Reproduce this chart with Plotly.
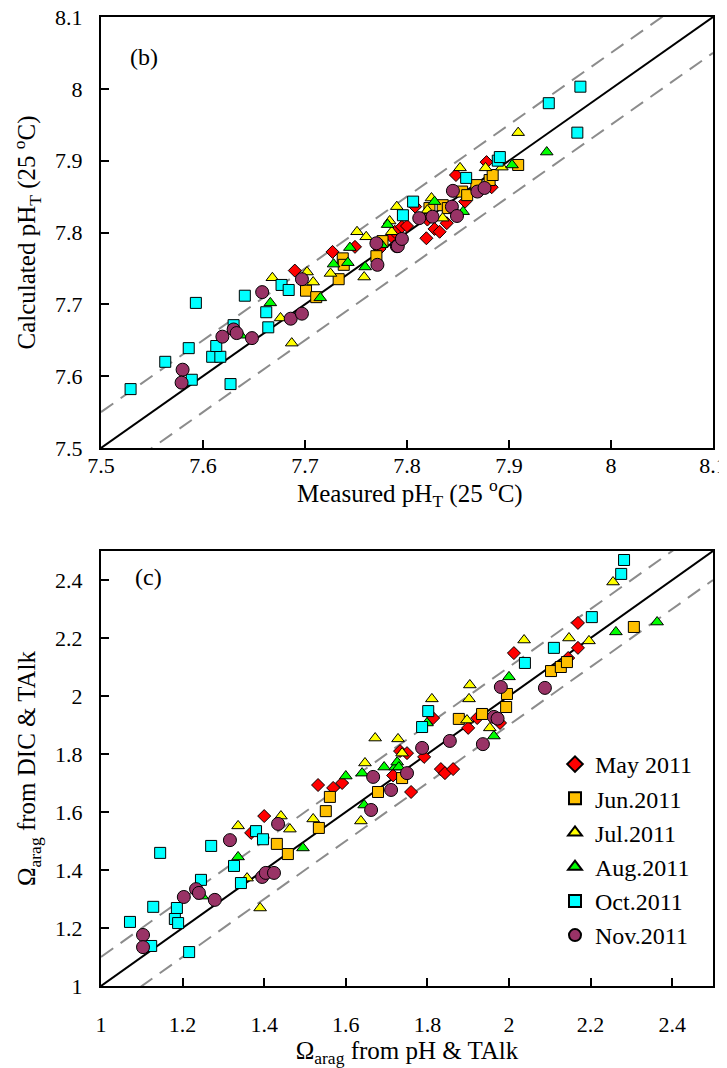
import plotly.graph_objects as go

# ---------------- data: panel (b) pH ----------------
may_ph_x = [7.690, 7.727, 7.749, 7.773, 7.785, 7.788, 7.795, 7.800, 7.808, 7.819, 7.820, 7.827, 7.832, 7.839, 7.848, 7.857, 7.878, 7.883]
may_ph_y = [7.747, 7.773, 7.780, 7.777, 7.794, 7.801, 7.808, 7.809, 7.836, 7.792, 7.818, 7.805, 7.801, 7.813, 7.880, 7.843, 7.898, 7.863]
jun_ph_x = [7.701, 7.711, 7.733, 7.737, 7.738, 7.770, 7.776, 7.822, 7.835, 7.840, 7.854, 7.859, 7.868, 7.881, 7.884, 7.909]
jun_ph_y = [7.719, 7.710, 7.735, 7.764, 7.755, 7.767, 7.788, 7.834, 7.838, 7.834, 7.857, 7.852, 7.866, 7.873, 7.880, 7.894]
jul_ph_x = [7.668, 7.676, 7.687, 7.702, 7.708, 7.725, 7.751, 7.758, 7.760, 7.783, 7.785, 7.790, 7.820, 7.824, 7.835, 7.852, 7.877, 7.893, 7.909]
jul_ph_y = [7.737, 7.681, 7.646, 7.745, 7.731, 7.743, 7.801, 7.738, 7.794, 7.816, 7.801, 7.836, 7.831, 7.848, 7.820, 7.890, 7.890, 7.891, 7.939]
aug_ph_x = [7.637, 7.666, 7.715, 7.728, 7.742, 7.744, 7.759, 7.775, 7.781, 7.827, 7.855, 7.903, 7.937]
aug_ph_y = [7.657, 7.702, 7.709, 7.756, 7.758, 7.779, 7.752, 7.783, 7.811, 7.843, 7.829, 7.894, 7.912]
oct_ph_x = [7.529, 7.563, 7.586, 7.593, 7.589, 7.609, 7.617, 7.613, 7.627, 7.641, 7.630, 7.662, 7.664, 7.677, 7.684, 7.796, 7.806, 7.858, 7.889, 7.891, 7.939, 7.967, 7.970]
oct_ph_y = [7.582, 7.620, 7.639, 7.702, 7.595, 7.627, 7.627, 7.642, 7.589, 7.712, 7.671, 7.689, 7.668, 7.727, 7.720, 7.824, 7.843, 7.876, 7.900, 7.905, 7.980, 7.939, 8.003]
nov_ph_x = [7.580, 7.579, 7.619, 7.630, 7.633, 7.648, 7.658, 7.686, 7.697, 7.697, 7.770, 7.771, 7.790, 7.791, 7.795, 7.812, 7.825, 7.844, 7.845, 7.849, 7.869, 7.876]
nov_ph_y = [7.609, 7.591, 7.655, 7.665, 7.660, 7.653, 7.717, 7.680, 7.687, 7.735, 7.785, 7.755, 7.781, 7.781, 7.791, 7.820, 7.822, 7.836, 7.858, 7.823, 7.857, 7.862]

# ---------------- data: panel (c) Omega ----------------
may_om_x = [1.368, 1.400, 1.532, 1.569, 1.591, 1.716, 1.733, 1.750, 1.760, 1.792, 1.814, 1.833, 1.843, 1.863, 1.900, 1.922, 1.978, 2.012, 2.145, 2.169, 2.169]
may_om_y = [1.528, 1.586, 1.693, 1.683, 1.700, 1.726, 1.810, 1.803, 1.669, 1.790, 1.924, 1.748, 1.734, 1.748, 1.890, 1.924, 1.907, 2.148, 2.131, 2.166, 2.252]
jun_om_x = [1.431, 1.458, 1.534, 1.551, 1.561, 1.679, 1.738, 1.877, 1.934, 1.993, 1.995, 2.103, 2.127, 2.142, 2.306]
jun_om_y = [1.490, 1.455, 1.545, 1.603, 1.652, 1.669, 1.717, 1.921, 1.938, 1.962, 2.007, 2.086, 2.100, 2.117, 2.238]
jul_om_x = [1.336, 1.358, 1.390, 1.441, 1.463, 1.520, 1.637, 1.647, 1.672, 1.728, 1.738, 1.811, 1.897, 1.902, 1.904, 1.953, 2.037, 2.147, 2.196, 2.255]
jul_om_y = [1.552, 1.372, 1.269, 1.586, 1.541, 1.576, 1.569, 1.769, 1.855, 1.852, 1.803, 1.990, 1.917, 1.990, 2.038, 1.890, 2.193, 2.200, 2.190, 2.393]
aug_om_x = [1.248, 1.336, 1.495, 1.600, 1.640, 1.645, 1.694, 1.721, 1.726, 1.730, 1.799, 1.963, 2.000, 2.262, 2.363]
aug_om_y = [1.310, 1.445, 1.476, 1.724, 1.734, 1.624, 1.755, 1.755, 1.772, 1.755, 1.907, 1.862, 2.066, 2.221, 2.255]
oct_om_x = [1.071, 1.123, 1.128, 1.145, 1.181, 1.186, 1.189, 1.216, 1.245, 1.270, 1.326, 1.343, 1.380, 1.397, 1.787, 1.802, 2.039, 2.110, 2.203, 2.275, 2.282]
oct_om_y = [1.221, 1.138, 1.273, 1.459, 1.231, 1.269, 1.217, 1.117, 1.366, 1.483, 1.414, 1.355, 1.534, 1.506, 1.893, 1.948, 2.114, 2.166, 2.272, 2.421, 2.469]
nov_om_x = [1.103, 1.103, 1.203, 1.233, 1.240, 1.279, 1.316, 1.395, 1.404, 1.424, 1.434, 1.662, 1.667, 1.711, 1.750, 1.787, 1.855, 1.936, 1.963, 1.972, 1.980, 2.088]
nov_om_y = [1.176, 1.134, 1.307, 1.334, 1.321, 1.297, 1.503, 1.376, 1.390, 1.390, 1.559, 1.607, 1.721, 1.676, 1.734, 1.821, 1.845, 1.834, 1.928, 1.922, 2.031, 2.028]

series_names = ["May 2011", "Jun.2011", "Jul.2011", "Aug.2011", "Oct.2011", "Nov.2011"]

# reference lines (1:1 and offsets)
ph_line = [7.5, 8.1]
ph_offset = 0.05
om_line = [1.0, 2.5]
om_offset = 0.1

# ticks
ph_ticks = [7.5, 7.6, 7.7, 7.8, 7.9, 8.0, 8.1]
ph_ticktext = ["7.5", "7.6", "7.7", "7.8", "7.9", "8", "8.1"]
om_ticks = [1.0, 1.2, 1.4, 1.6, 1.8, 2.0, 2.2, 2.4]
om_ticktext = ["1", "1.2", "1.4", "1.6", "1.8", "2", "2.2", "2.4"]

# ---------------- styles ----------------
styles = [
    dict(symbol="diamond", color="#FF0000", size=10),
    dict(symbol="square", color="#FFC000", size=11),
    dict(symbol="triangle-up", color="#FFFF00", size=11),
    dict(symbol="triangle-up", color="#00FF00", size=11),
    dict(symbol="square", color="#00FFFF", size=11),
    dict(symbol="circle", color="#993366", size=13),
]

FONT = "Liberation Serif"
W, H = 727, 1060
OFF = 8  # page body margin


def xp(px):
    return (px - OFF) / W


def yp(py):
    return 1 - (py - OFF) / H


fig = go.Figure()

dash_style = dict(color="#8c8c8c", width=2, dash="15px,9px")
# reference lines panel (b)
fig.add_trace(go.Scatter(x=ph_line, y=ph_line, mode="lines", line=dict(color="black", width=2),
                         showlegend=False, hoverinfo="skip", xaxis="x", yaxis="y"))
fig.add_trace(go.Scatter(x=ph_line, y=[v + ph_offset for v in ph_line], mode="lines", line=dash_style,
                         showlegend=False, hoverinfo="skip", xaxis="x", yaxis="y"))
fig.add_trace(go.Scatter(x=ph_line, y=[v - ph_offset for v in ph_line], mode="lines", line=dash_style,
                         showlegend=False, hoverinfo="skip", xaxis="x", yaxis="y"))
# reference lines panel (c)
fig.add_trace(go.Scatter(x=om_line, y=om_line, mode="lines", line=dict(color="black", width=2),
                         showlegend=False, hoverinfo="skip", xaxis="x2", yaxis="y2"))
fig.add_trace(go.Scatter(x=om_line, y=[v + om_offset for v in om_line], mode="lines", line=dash_style,
                         showlegend=False, hoverinfo="skip", xaxis="x2", yaxis="y2"))
fig.add_trace(go.Scatter(x=om_line, y=[v - om_offset for v in om_line], mode="lines", line=dash_style,
                         showlegend=False, hoverinfo="skip", xaxis="x2", yaxis="y2"))

ph_data = [(may_ph_x, may_ph_y), (jun_ph_x, jun_ph_y), (jul_ph_x, jul_ph_y),
           (aug_ph_x, aug_ph_y), (oct_ph_x, oct_ph_y), (nov_ph_x, nov_ph_y)]
om_data = [(may_om_x, may_om_y), (jun_om_x, jun_om_y), (jul_om_x, jul_om_y),
           (aug_om_x, aug_om_y), (oct_om_x, oct_om_y), (nov_om_x, nov_om_y)]

for name, st, (x, y) in zip(series_names, styles, ph_data):
    fig.add_trace(go.Scatter(x=x, y=y, mode="markers", name=name, showlegend=False,
                             marker=dict(symbol=st["symbol"], color=st["color"], size=st["size"],
                                         line=dict(color="black", width=1)),
                             xaxis="x", yaxis="y"))
for i, (name, st, (x, y)) in enumerate(zip(series_names, styles, om_data)):
    fig.add_trace(go.Scatter(x=x, y=y, mode="markers", name=name, legendgroup=f"g{i}",
                             marker=dict(symbol=st["symbol"], color=st["color"], size=st["size"],
                                         line=dict(color="black", width=1)),
                             xaxis="x2", yaxis="y2"))

xdom = [xp(101), xp(713)]
ydom_top = [yp(448), yp(17)]
ydom_bot = [yp(986), yp(551)]

axis_common = dict(showline=True, mirror=True, linecolor="black", linewidth=2,
                   ticks="inside", ticklen=8, tickwidth=2, tickcolor="black",
                   showgrid=False, zeroline=False, automargin=False,
                   ticklabeloverflow="allow",
                   tickfont=dict(family=FONT, size=22, color="black"))
TFS = 25

fig.update_layout(
    width=W, height=H,
    margin=dict(l=0, r=0, t=0, b=0, autoexpand=False),
    paper_bgcolor="white", plot_bgcolor="white",
    font=dict(family=FONT, size=22, color="black"),
    xaxis=dict(domain=xdom, range=[7.5, 8.1], tickvals=ph_ticks, ticktext=ph_ticktext,
               anchor="y", ticklabelstandoff=-3, **axis_common),
    yaxis=dict(domain=ydom_top, range=[7.5, 8.1], tickvals=ph_ticks, ticktext=ph_ticktext,
               anchor="x", ticklabelstandoff=12,
               title=dict(text="Calculated pH<sub>T</sub> (25 <sup>o</sup>C)", standoff=12,
                          font=dict(family=FONT, size=TFS)), **axis_common),
    xaxis2=dict(domain=xdom, range=[1.0, 2.5], tickvals=om_ticks, ticktext=om_ticktext,
                anchor="y2", ticklabelstandoff=18,
                title=dict(text="Ω<sub>arag</sub> from pH &amp; TAlk", standoff=6,
                           font=dict(family=FONT, size=TFS)), **axis_common),
    yaxis2=dict(domain=ydom_bot, range=[1.0, 2.5], tickvals=om_ticks, ticktext=om_ticktext,
                anchor="x2", ticklabelstandoff=12,
                title=dict(text="Ω<sub>arag</sub> from DIC &amp; TAlk", standoff=12,
                           font=dict(family=FONT, size=TFS)), **axis_common),
    legend=dict(x=xp(555), y=yp(742), xanchor="left", yanchor="top",
                bgcolor="rgba(0,0,0,0)", borderwidth=0,
                font=dict(family=FONT, size=24, color="black"),
                traceorder="grouped", tracegroupgap=0, itemsizing="constant"),
    annotations=[
        dict(text="Measured pH<sub>T</sub> (25 <sup>o</sup>C)", x=xp(410), y=yp(493),
             xref="paper", yref="paper", xanchor="center", yanchor="middle",
             showarrow=False, font=dict(family=FONT, size=TFS, color="black")),
        dict(text="(b)", x=xp(128), y=yp(42), xref="paper", yref="paper",
             showarrow=False, font=dict(family=FONT, size=24, color="black")),
        dict(text="(c)", x=xp(133), y=yp(577), xref="paper", yref="paper",
             showarrow=False, font=dict(family=FONT, size=24, color="black")),
    ],
)

fig.write_html("out.html")
